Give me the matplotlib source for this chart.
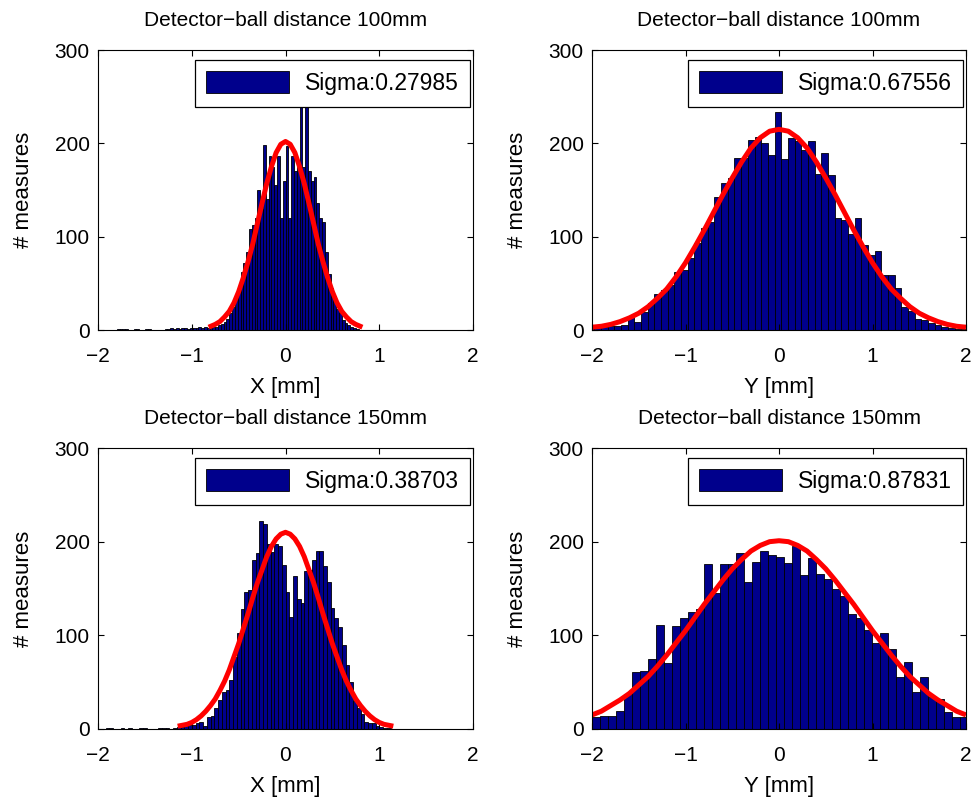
import numpy as np
import matplotlib
matplotlib.use("Agg")
import matplotlib.pyplot as plt

plt.rcParams['font.family'] = ['Liberation Sans', 'DejaVu Sans']
plt.rcParams['font.size'] = 15

# ---- panel 1: X, 100mm ----
x1_start, x1_w = -1.83, 0.03
x1_counts = [0, 1, 1, 1, 1, 0, 0, 1, 1, 0, 0, 1, 1, 0, 0, 0, 0, 0, 1, 1,
             2, 1, 2, 1, 2, 2, 1, 2, 2, 2, 3, 2, 3, 2,
             2, 3, 3, 5, 6, 9, 12, 18, 25, 36, 44, 62, 72, 84, 108, 112, 120, 150, 130, 198,
             140, 186, 175, 155, 186, 120, 160, 197, 120, 186, 170, 175, 260, 175, 260, 170,
             160, 164, 136, 120, 116, 84, 60, 45, 36, 23, 18, 11, 8, 5, 3, 2, 1]
fit1_x = [-0.82, -0.75, -0.7, -0.65, -0.6, -0.55, -0.5, -0.45, -0.4, -0.35, -0.3, -0.25, -0.2,
          -0.15, -0.1, -0.05, 0, 0.05, 0.1, 0.15, 0.2, 0.25, 0.3, 0.35, 0.4, 0.45, 0.5,
          0.55, 0.6, 0.65, 0.7, 0.75, 0.82]
fit1_y = [3, 6, 9, 14, 20, 29, 41, 56, 73, 92, 114, 136, 157,
          175, 190, 199, 202, 199, 190, 175, 157, 136, 114, 92, 73, 56, 41,
          29, 20, 14, 9, 6, 3]

# ---- panel 2: Y, 100mm ----
y1_start, y1_w = -2.047, 0.0714
y1_counts = [2, 3, 3, 4, 4, 5, 14, 9, 19, 29, 39, 43, 48, 62, 64, 77, 93, 109, 116, 143,
             158, 163, 184, 184, 204, 207, 200, 188, 234, 183, 206, 202, 193, 203, 167, 190,
             166, 120, 118, 103, 120, 91, 80, 85, 59, 59, 45, 25, 20, 12, 11, 8, 5, 3, 2, 1, 1]
fit2_x = [-2.0, -1.9, -1.8, -1.7, -1.6, -1.5, -1.4, -1.3, -1.2, -1.1, -1.0, -0.9, -0.8, -0.7,
          -0.6, -0.5, -0.4, -0.3, -0.2, -0.1, -0.05, 0.0, 0.05, 0.1, 0.2, 0.3, 0.4, 0.5, 0.6,
          0.7, 0.8, 0.9, 1.0, 1.1, 1.2, 1.3, 1.4, 1.5, 1.6, 1.7, 1.8, 1.9, 2.0]
fit2_y = [3, 4, 6, 9, 13, 18, 25, 34, 44, 57, 72, 89, 107, 126,
          145, 163, 180, 195, 206, 213, 214, 215, 214, 213, 206, 195, 180, 163, 145,
          126, 107, 89, 72, 57, 44, 34, 25, 18, 13, 9, 6, 4, 3]

# ---- panel 3: X, 150mm ----
x2_start, x2_w = -1.96, 0.04
x2_counts = [0, 1, 1, 0, 0, 1, 0, 1, 0, 0, 1, 1, 0, 0, 0, 1, 1, 1, 0, 1,
             2, 2, 3, 4, 4, 6, 8, 3, 13, 14, 22, 31, 40, 42, 52, 77, 102, 128, 146, 148,
             180, 188, 222, 219, 198, 189, 198, 195, 175, 146, 120, 163, 139, 135, 169, 170,
             180, 190, 190, 174, 157, 129, 118, 109, 90, 68, 50, 30, 22, 16, 8, 6, 6, 3, 2, 1, 1]
fit3_x = [-1.15, -1.1, -1.05, -1.0, -0.95, -0.9, -0.85, -0.8, -0.75, -0.7, -0.65, -0.6, -0.55,
          -0.5, -0.45, -0.4, -0.35, -0.3, -0.25, -0.2, -0.15, -0.1, -0.05, 0.0,
          0.05, 0.1, 0.15, 0.2, 0.25, 0.3, 0.35, 0.4, 0.45, 0.5, 0.55, 0.6, 0.65, 0.7,
          0.75, 0.8, 0.85, 0.9, 0.95, 1.0, 1.05, 1.1, 1.15]
fit3_y = [3, 4, 5, 7, 10, 14, 19, 25, 32, 41, 51, 63, 77,
          91, 107, 123, 140, 156, 170, 184, 195, 203, 208, 210,
          208, 203, 195, 184, 170, 156, 140, 123, 107, 91, 77, 63, 51, 41,
          32, 25, 19, 14, 10, 7, 5, 4, 3]

# ---- panel 4: Y, 150mm ----
y2_start, y2_w = -2.0, 0.0855
y2_counts = [13, 14, 14, 19, 37, 61, 62, 75, 111, 70, 110, 118, 125, 128, 176, 145, 176, 176,
             188, 157, 178, 190, 186, 184, 177, 195, 164, 183, 165, 160, 149, 142, 123, 118,
             106, 92, 103, 85, 56, 71, 40, 55, 34, 32, 18, 13, 13]
fit4_x = [-2.0, -1.9, -1.8, -1.7, -1.6, -1.5, -1.4, -1.3, -1.2, -1.1, -1.0, -0.9, -0.8, -0.7,
          -0.6, -0.5, -0.4, -0.3, -0.2, -0.1, 0.0, 0.1, 0.2, 0.3, 0.4, 0.5, 0.6, 0.7, 0.8,
          0.9, 1.0, 1.1, 1.2, 1.3, 1.4, 1.5, 1.6, 1.7, 1.8, 1.9, 2.0]
fit4_y = [15, 19, 25, 31, 38, 47, 56, 67, 79, 92, 105, 119, 133, 146,
          159, 171, 181, 190, 196, 200, 201, 200, 196, 190, 181, 171, 159, 146, 133,
          119, 105, 92, 79, 67, 56, 47, 38, 31, 25, 19, 15]

titles = ["Detector\u2212ball distance 100mm", "Detector\u2212ball distance 100mm",
          "Detector\u2212ball distance 150mm", "Detector\u2212ball distance 150mm"]
xlabels = ["X [mm]", "Y [mm]", "X [mm]", "Y [mm]"]
sigmas = ["Sigma:0.27985", "Sigma:0.67556", "Sigma:0.38703", "Sigma:0.87831"]

panels = [
    (x1_start, x1_w, x1_counts, fit1_x, fit1_y),
    (y1_start, y1_w, y1_counts, fit2_x, fit2_y),
    (x2_start, x2_w, x2_counts, fit3_x, fit3_y),
    (y2_start, y2_w, y2_counts, fit4_x, fit4_y),
]

W, H = 976, 800
boxes = [(98, 50, 473, 330), (592, 50, 966, 330), (98, 448, 473, 729), (592, 448, 966, 729)]

fig = plt.figure(figsize=(W / 100, H / 100), dpi=100)
for i, (start, w, counts, fx, fy) in enumerate(panels):
    l, t, r, b = boxes[i]
    ax = fig.add_axes([l / W, (H - b) / H, (r - l) / W, (b - t) / H])
    lefts = start + w * np.arange(len(counts))
    ax.bar(lefts, counts, width=w, align='edge', color=(0, 0, 0.55),
           edgecolor='black', linewidth=0.6, label=sigmas[i])
    ax.plot(fx, fy, color='red', linewidth=3.6, solid_capstyle='butt')
    ax.set_xlim(-2, 2)
    ax.set_ylim(0, 300)
    ax.set_xticks([-2, -1, 0, 1, 2])
    ax.set_yticks([0, 100, 200, 300])
    ax.tick_params(direction='in', top=True, right=True, length=4, width=0.8, labelsize=15)
    ax.tick_params(axis='x', pad=12)
    ax.tick_params(axis='y', pad=6)
    for s in ax.spines.values():
        s.set_linewidth(0.8)
    ax.set_title(titles[i], fontsize=15, pad=17)
    ax.set_xlabel(xlabels[i], fontsize=16, labelpad=8)
    ax.set_ylabel("# measures", fontsize=16, labelpad=15)
    leg = ax.legend(loc='upper right', bbox_to_anchor=(0.992, 0.965), borderaxespad=0,
                    fancybox=False, edgecolor='black', framealpha=1, fontsize=16.5,
                    handlelength=3.6, handleheight=1.1, borderpad=0.5, handletextpad=0.7)
    leg.get_frame().set_linewidth(0.9)

fig.savefig("out.png", dpi=100)
